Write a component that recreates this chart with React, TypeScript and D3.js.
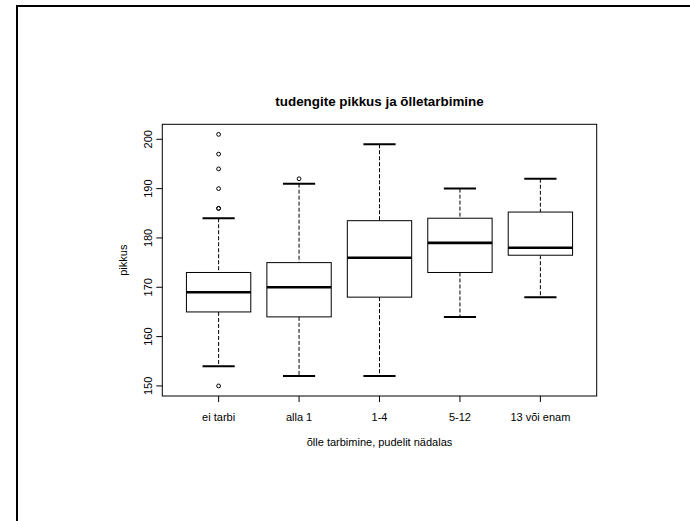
import * as d3 from "d3";

// categories and box statistics
const categories = ["ei tarbi", "alla 1", "1-4", "5-12", "13 või enam"];
const whiskerLow = [154, 152, 152, 164, 168];
const q1 = [165, 164, 168, 173, 176.5];
const median = [169, 170, 176, 179, 178];
const q3 = [173, 175, 183.5, 184, 185.25];
const whiskerHigh = [184, 191, 199, 190, 192];
const outliers = [
  [150, 186, 186, 190, 194, 197, 201],
  [192],
  [],
  [],
  [],
];
const yTicks = [150, 160, 170, 180, 190, 200];

const title = "tudengite pikkus ja õlletarbimine";
const xTitle = "õlle tarbimine, pudelit nädalas";
const yTitle = "pikkus";

const App = () => {
  const width = 690;
  const height = 521;
  const margin = { top: 124.3, right: 93.3, bottom: 125, left: 162.3 };
  const plotRight = width - margin.right;
  const plotBottom = height - margin.bottom;

  // R style: data range plus 4% on each side
  const allVals = [...whiskerLow, ...whiskerHigh, ...outliers.flat()];
  const lo = Math.min(...allVals);
  const hi = Math.max(...allVals);
  const pad = (hi - lo) * 0.04;

  const xScale = d3.scaleLinear().domain([0.3, categories.length + 0.7]).range([margin.left, plotRight]);
  const yScale = d3.scaleLinear().domain([lo - pad, hi + pad]).range([plotBottom, margin.top]);

  const boxHalf = (xScale(1.4) - xScale(1)) ;
  const capHalf = (xScale(1.2) - xScale(1));
  const font = "'Liberation Sans', Arial, Helvetica, sans-serif";

  return (
    <svg width={width} height={height} style={{ position: "absolute", left: 0, top: 0, background: "white" }} fontFamily={font}>
      {/* outer frame */}
      <rect x={17} y={6} width={720} height={620} fill="none" stroke="black" strokeWidth={2} />

      {/* title */}
      <text x={(margin.left + plotRight) / 2} y={106} textAnchor="middle" fontSize={13.4} fontWeight="bold">{title}</text>

      {/* boxes */}
      {categories.map((c, i) => {
        const cx = xScale(i + 1);
        return (
          <g key={c}>
            <line x1={cx} x2={cx} y1={yScale(whiskerHigh[i])} y2={yScale(q3[i])} stroke="black" strokeDasharray="4,2" />
            <line x1={cx} x2={cx} y1={yScale(q1[i])} y2={yScale(whiskerLow[i])} stroke="black" strokeDasharray="4,2" />
            <line x1={cx - capHalf} x2={cx + capHalf} y1={yScale(whiskerHigh[i])} y2={yScale(whiskerHigh[i])} stroke="black" strokeWidth={2} />
            <line x1={cx - capHalf} x2={cx + capHalf} y1={yScale(whiskerLow[i])} y2={yScale(whiskerLow[i])} stroke="black" strokeWidth={2} />
            <rect x={cx - boxHalf} y={yScale(q3[i])} width={boxHalf * 2} height={yScale(q1[i]) - yScale(q3[i])} fill="white" stroke="black" strokeWidth={1} />
            <line x1={cx - boxHalf} x2={cx + boxHalf} y1={yScale(median[i])} y2={yScale(median[i])} stroke="black" strokeWidth={2.6} />
            {outliers[i].map((v, j) => (
              <circle key={j} cx={cx} cy={yScale(v)} r={1.9} fill="none" stroke="black" strokeWidth={1} />
            ))}
          </g>
        );
      })}

      {/* plot box */}
      <rect x={margin.left} y={margin.top} width={plotRight - margin.left} height={plotBottom - margin.top} fill="none" stroke="black" strokeWidth={1} />

      {/* x axis */}
      {categories.map((c, i) => (
        <g key={c}>
          <line x1={xScale(i + 1)} x2={xScale(i + 1)} y1={plotBottom} y2={plotBottom + 6} stroke="black" />
          <text x={xScale(i + 1)} y={420.7} textAnchor="middle" fontSize={11}>{c}</text>
        </g>
      ))}
      <text x={(margin.left + plotRight) / 2} y={445.7} textAnchor="middle" fontSize={11}>{xTitle}</text>

      {/* y axis */}
      {yTicks.map((t) => (
        <g key={t}>
          <line x1={margin.left - 6} x2={margin.left} y1={yScale(t)} y2={yScale(t)} stroke="black" />
          <text transform={`translate(151.5,${yScale(t)}) rotate(-90)`} textAnchor="middle" fontSize={11}>{t}</text>
        </g>
      ))}
      <text transform={`translate(126.5,${(margin.top + plotBottom) / 2}) rotate(-90)`} textAnchor="middle" fontSize={11}>{yTitle}</text>
    </svg>
  );
};

export default App;
